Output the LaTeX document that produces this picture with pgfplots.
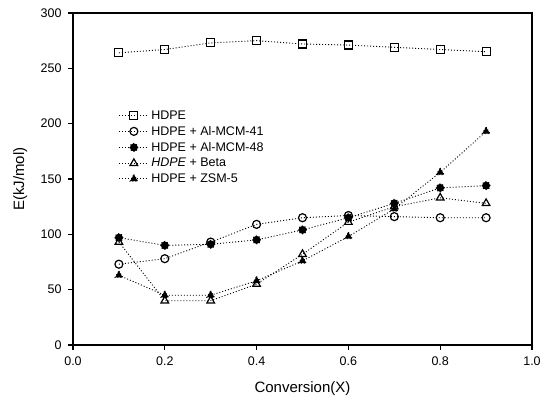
\documentclass[border=0pt]{standalone}
\usepackage{pgfplots}
\pgfplotsset{compat=1.18}
\usepackage{fontspec}
\setmainfont{Liberation Sans}
\begin{document}
\begin{tikzpicture}
\begin{axis}[
  scale only axis,
  width=459pt, height=332pt,
  xmin=0, xmax=1, ymin=0, ymax=300,
  xtick={0,0.2,0.4,0.6,0.8,1.0},
  ytick={0,50,100,150,200,250,300},
  xticklabel style={yshift=-3pt, /pgf/number format/.cd,fixed,fixed zerofill,precision=1},
  /pgf/number format/assume math mode=true,
  tick align=outside,
  tick pos=left,
  major tick length=5pt,
  axis line style={line width=1.1pt},
  tick style={line width=1.1pt, black},
  ticklabel style={font=\fontsize{12.5}{14}\selectfont},
  yticklabel style={xshift=-3pt},
  xlabel={Conversion(X)},
  ylabel={E(kJ/mol)},
  label style={font=\fontsize{15}{17}\selectfont},
  xlabel style={at={(axis description cs:0.5,-0.13)}, anchor=center},
  ylabel style={at={(axis description cs:-0.115,0.5)}, anchor=center},
  legend style={draw=none, fill=none, at={(0.092,0.719)}, anchor=north west, font=\fontsize{12.5}{14}\selectfont, row sep=1.5pt, legend cell align=left},
  legend image code/.code={\draw[mark repeat=2,mark phase=2,#1] plot coordinates {(0pt,0pt) (15pt,0pt) (30pt,0pt)};},
  every axis plot/.append style={black, dash pattern=on 1pt off 2pt, line width=0.9pt, mark size=4pt, mark options={solid, line width=1.2pt}},
]
\addplot[mark=square] coordinates {(0.1,264)(0.2,267)(0.3,273)(0.4,275)(0.5,272)(0.6,271)(0.7,269)(0.8,267)(0.9,265)};
\addlegendentry{HDPE}
\addplot[mark=o] coordinates {(0.1,73)(0.2,78)(0.3,93)(0.4,109)(0.5,115)(0.6,117)(0.7,116)(0.8,115)(0.9,115)};
\addlegendentry{HDPE + Al-MCM-41}
\addplot[mark=*, mark options={fill=black}] coordinates {(0.1,97)(0.2,90)(0.3,91)(0.4,95)(0.5,104)(0.6,115)(0.7,128)(0.8,142)(0.9,144)};
\addlegendentry{HDPE + Al-MCM-48}
\addplot[mark=triangle, mark size=4.4pt] coordinates {(0.1,93)(0.2,40)(0.3,40)(0.4,55)(0.5,82)(0.6,111)(0.7,125)(0.8,133)(0.9,128)};
\addlegendentry{\textit{HDPE} + Beta}
\addplot[mark=triangle*, mark size=4.4pt, mark options={fill=black}] coordinates {(0.1,63)(0.2,45)(0.3,45)(0.4,58)(0.5,76)(0.6,98)(0.7,123)(0.8,156)(0.9,193)};
\addlegendentry{HDPE + ZSM-5}
\end{axis}
\path (current axis.south west) ++(-73pt,-59pt);
\path (current axis.north east) ++(19pt,13pt);
\end{tikzpicture}
\end{document}
